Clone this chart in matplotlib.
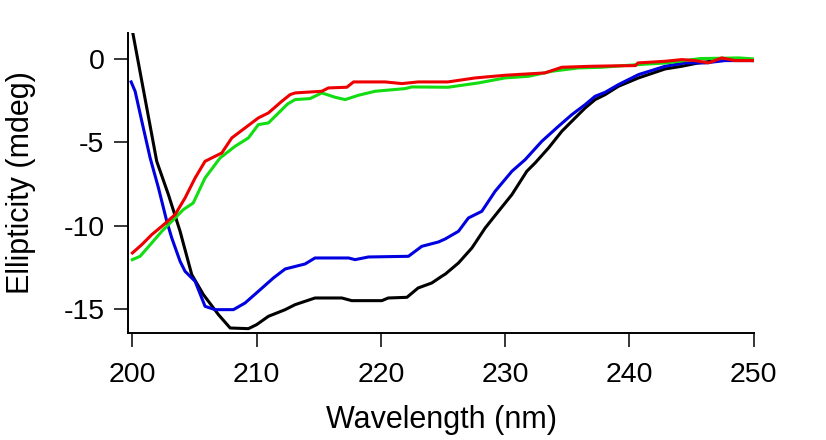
import matplotlib
matplotlib.use("Agg")
import matplotlib.pyplot as plt

# CD spectra (wavelength in nm, ellipticity in mdeg)
black_nm = [200.0, 201.96, 202.9, 203.84, 204.78, 205.72, 206.93, 207.87, 209.34, 210.0,
            210.95, 212.3, 213.1, 214.7, 216.86, 217.66, 220.08, 220.6, 222.1, 223.0,
            224.1, 224.9, 225.2, 226.25, 227.33, 228.4, 229.47, 230.55, 231.75, 232.42,
            233.5, 234.57, 235.64, 236.45, 237.25, 238.06, 239.13, 240.74, 242.89, 244.23,
            245.5, 247.0, 248.5, 250.0]
black_mdeg = [1.7, -6.14, -8.14, -10.34, -12.94, -14.14, -15.34, -16.14, -16.18, -15.94,
              -15.44, -15.04, -14.74, -14.34, -14.34, -14.5, -14.5, -14.34, -14.3, -13.74,
              -13.44, -13.04, -12.9, -12.24, -11.34, -10.14, -9.14, -8.14, -6.74, -6.24,
              -5.34, -4.34, -3.54, -2.94, -2.44, -2.14, -1.64, -1.14, -0.6, -0.44,
              -0.25, -0.1, -0.05, -0.1]

blue_nm = [199.9, 200.22, 200.76, 201.43, 202.1, 202.77, 203.17, 203.84, 204.24, 205.05,
           205.85, 206.66, 208.13, 209.07, 210.14, 211.35, 212.3, 213.9, 214.7, 217.4,
           217.93, 219.0, 222.22, 223.3, 224.64, 225.18, 226.25, 227.05, 228.13, 229.2,
           230.55, 231.62, 232.96, 234.3, 235.38, 236.45, 237.25, 238.06, 239.13, 240.74,
           242.89, 244.5, 246.1, 247.7, 248.8, 250.0]
blue_mdeg = [-1.38, -1.94, -3.74, -5.94, -7.74, -9.74, -10.74, -12.14, -12.74, -13.34,
             -14.84, -15.04, -15.04, -14.64, -13.94, -13.14, -12.6, -12.3, -11.94, -11.94,
             -12.04, -11.88, -11.84, -11.24, -10.98, -10.8, -10.34, -9.54, -9.14, -7.94,
             -6.74, -6.04, -4.94, -4.04, -3.34, -2.74, -2.24, -2.0, -1.54, -0.94,
             -0.44, -0.24, -0.24, -0.1, -0.1, -0.1]

green_nm = [200.0, 200.62, 201.56, 202.37, 203.17, 204.1, 204.9, 205.85, 207.06, 208.27,
            209.34, 210.14, 210.95, 211.9, 212.5, 213.1, 214.3, 215.25, 216.32, 217.13,
            218.2, 219.54, 221.96, 222.5, 225.4, 227.86, 230.0, 231.9, 233.77, 235.9,
            237.8, 240.5, 243.0, 245.7, 248.8, 250.0]
green_mdeg = [-12.04, -11.84, -11.04, -10.34, -9.74, -9.04, -8.64, -7.14, -5.94, -5.24,
              -4.74, -3.94, -3.84, -3.14, -2.7, -2.44, -2.38, -2.04, -2.3, -2.44,
              -2.18, -1.94, -1.78, -1.68, -1.7, -1.44, -1.14, -1.04, -0.74, -0.54,
              -0.5, -0.35, -0.24, 0.02, 0.06, 0.0]

red_nm = [200.0, 200.76, 201.56, 202.37, 203.44, 204.24, 205.05, 205.85, 207.2, 208.0,
          209.07, 210.14, 210.95, 212.03, 212.7, 213.1, 215.25, 215.78, 217.26, 217.8,
          220.35, 221.7, 223.0, 225.4, 227.6, 230.0, 233.2, 234.57, 237.0, 238.5,
          240.5, 240.7, 242.9, 244.23, 245.3, 246.37, 247.44, 248.5, 250.0]
red_mdeg = [-11.64, -11.14, -10.54, -10.04, -9.34, -8.34, -7.14, -6.14, -5.64, -4.74,
            -4.14, -3.54, -3.24, -2.54, -2.14, -2.04, -1.94, -1.74, -1.7, -1.38,
            -1.38, -1.48, -1.38, -1.38, -1.14, -0.98, -0.84, -0.5, -0.44, -0.42,
            -0.4, -0.24, -0.14, -0.04, -0.1, -0.24, 0.06, -0.1, -0.1]

x_ticks = [200, 210, 220, 230, 240, 250]
y_ticks = [0, -5, -10, -15]

plt.rcParams['font.family'] = ['Liberation Sans', 'DejaVu Sans']
plt.rcParams['axes.unicode_minus'] = False

fig = plt.figure(figsize=(8.26, 4.4), dpi=100)
ax = fig.add_axes([0.155, 0.2432, 0.758, 0.682])

ax.plot(black_nm, black_mdeg, color='black', lw=2.2)
ax.plot(blue_nm, blue_mdeg, color='#0000e0', lw=2.2)
ax.plot(green_nm, green_mdeg, color='#11dd11', lw=2.2)
ax.plot(red_nm, red_mdeg, color='#ee0000', lw=2.2)

ax.set_xlim(199.65, 250.05)
ax.set_ylim(-16.44, 1.56)
ax.set_xticks(x_ticks)
ax.set_yticks(y_ticks)

for side in ('top', 'right'):
    ax.spines[side].set_visible(False)
for side in ('left', 'bottom'):
    ax.spines[side].set_linewidth(1.4)

ax.tick_params(axis='both', direction='out', length=10, width=1.1, labelsize=20.5, colors='black')
ax.tick_params(axis='x', pad=11)
ax.tick_params(axis='y', pad=7)

ax.set_xlabel('Wavelength (nm)', fontsize=22, labelpad=12)
ax.set_ylabel('Ellipticity (mdeg)', fontsize=22, labelpad=20)

fig.savefig('out.png', dpi=100)
